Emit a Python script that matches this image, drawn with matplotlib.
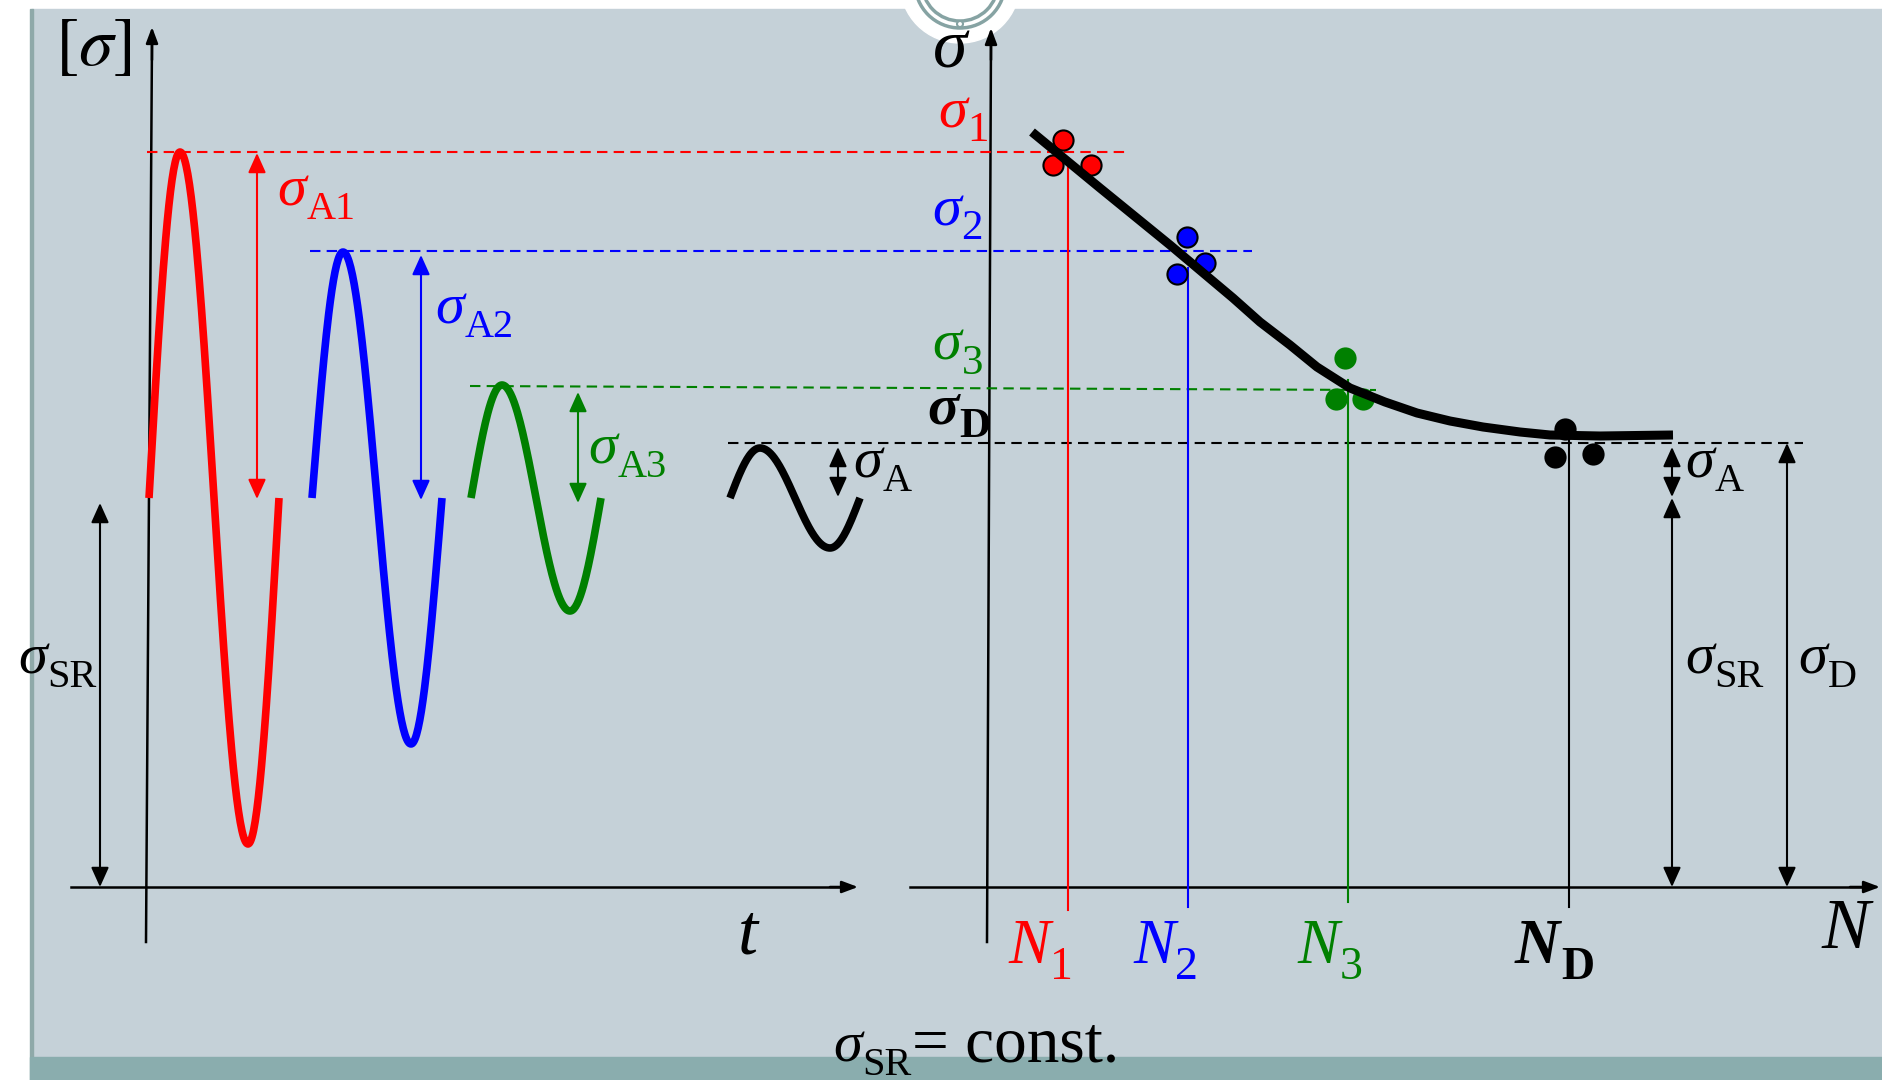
import numpy as np
import matplotlib.pyplot as plt
from matplotlib.patches import Rectangle, Circle

plt.rcParams['font.family'] = 'Liberation Serif'
plt.rcParams['mathtext.fontset'] = 'stix'

W, H = 1882, 1080

# --- left panel: stress-time signals (pixel units) ---
mean_level = 498                      # sigma_SR, constant mean stress
wave_colors = ['red', 'blue', 'green', 'black']
wave_x0 = [149, 312, 471, 730]
wave_amp = [346, 246, 113, 50]
wave_quarter = [31, 31, 31, 30]
wave_half = [68, 68, 68, 70]

# dashed stress levels sigma_1, sigma_2, sigma_3, sigma_D
level_colors = ['red', 'blue', 'green', 'black']
level_x = [(147, 1127), (310, 1252), (470, 1376), (728, 1803)]
level_y = [(152, 152), (251, 251), (386, 390), (443, 443)]

# amplitude arrows
amp_arrow_x = [257, 421, 578, 838]
amp_arrow_top = [153, 255, 392, 447]
amp_arrow_bot = [499, 500, 503, 497]
amp_labels = ['A1', 'A2', 'A3', 'A']
amp_label_pos = [(277, 205), (435, 323), (588, 463), (853, 477)]

# --- right panel: S-N (Woehler) diagram ---
n_x = [1068, 1188, 1348, 1569]
n_top = [165, 268, 380, 440]
n_bot = [910, 907, 902, 907]
n_names = ['1', '2', '3', 'D']
n_label_x = [1008, 1133, 1297, 1515]

# fracture points for each load level
pts_x = [[1063, 1053, 1091], [1187, 1205, 1177], [1345, 1336, 1363], [1565, 1555, 1593]]
pts_y = [[140, 165, 165], [237, 263, 274], [358, 399, 399], [429, 457, 454]]
pts_edge = ['black', 'black', 'green', 'black']

curve_x = [1032, 1100, 1170, 1233, 1260, 1290, 1317, 1350, 1385, 1417, 1450, 1483, 1520, 1550, 1600, 1673]
curve_y = [132, 188, 245, 298, 322, 345, 367, 388, 402, 413, 421, 427, 432, 435, 436, 435]

sig_names = ['1', '2', '3', 'D']
sig_label_pos = [(938, 127), (932, 225), (932, 360), (927, 423)]

bg = '#c5d1d8'
fig = plt.figure(figsize=(W / 100, H / 100), dpi=100, facecolor='white')
ax = fig.add_axes([0, 0, 1, 1])
ax.set_xlim(0, W)
ax.set_ylim(H, 0)
ax.axis('off')

# slide background
ax.add_patch(Rectangle((32, 9), W - 32, 1048, color=bg, zorder=0))
ax.add_patch(Rectangle((30, 9), 3, H, color='#8fa9a9', zorder=0))
ax.add_patch(Rectangle((30, 1057), W - 30, 23, color='#8aadae', zorder=0))
ax.add_patch(Circle((960, -17), 60, color='white', zorder=0.5))
ax.add_patch(Circle((960, -17), 45, fill=False, ec='#86a3a3', lw=2.5, zorder=0.6))
ax.add_patch(Circle((960, -17), 38, fill=False, ec='#86a3a3', lw=2.5, zorder=0.6))
ax.add_patch(Circle((960, 24), 3, fc='white', ec='#86a3a3', lw=1.5, zorder=0.7))


def arrow(x0, y0, x1, y1, color='black', both=True, lw=1.5):
    if both:
        style = '<|-|>,head_length=1.0,head_width=0.45'
    else:
        style = '-|>,head_length=0.8,head_width=0.3'
    ax.annotate('', xy=(x1, y1), xytext=(x0, y0),
                arrowprops=dict(arrowstyle=style, color=color, lw=lw,
                                shrinkA=0, shrinkB=0, mutation_scale=12),
                zorder=3)


def label(x, y, main, sub, color='black', size=42, subsize=29, bold=False):
    w = 'bold' if bold else 'normal'
    t = ax.text(x, y, main, color=color, fontsize=size, style='italic',
                weight=w, va='baseline', ha='left', zorder=5)
    s = ax.annotate(sub, xy=(1, 0), xycoords=t, xytext=(0.5, -1.5),
                    textcoords='offset points', color=color, fontsize=subsize,
                    weight=w, va='baseline', ha='left', zorder=5)
    return t, s


def wave(x0, q, h, amp, color):
    p1 = np.linspace(0, np.pi / 2, 40)
    p2 = np.linspace(np.pi / 2, 3 * np.pi / 2, 80)
    p3 = np.linspace(3 * np.pi / 2, 2 * np.pi, 40)
    x = np.concatenate([x0 + p1 / (np.pi / 2) * q,
                        x0 + q + (p2 - np.pi / 2) / np.pi * h,
                        x0 + q + h + (p3 - 3 * np.pi / 2) / (np.pi / 2) * q])
    p = np.concatenate([p1, p2, p3])
    ax.plot(x, mean_level - amp * np.sin(p), color=color, lw=5.5, solid_capstyle='butt', zorder=4)


# axes of both panels
ax.plot([146, 152], [942, 40], color='black', lw=1.8, zorder=2)
arrow(152, 60, 152, 27, both=False, lw=1.8)
ax.plot([71, 845], [887, 887], color='black', lw=1.8, zorder=2)
arrow(830, 887, 858, 887, both=False, lw=1.8)
ax.plot([987, 991], [942, 40], color='black', lw=1.8, zorder=2)
arrow(991, 60, 991, 28, both=False, lw=1.8)
ax.plot([910, 1865], [887, 887], color='black', lw=1.8, zorder=2)
arrow(1850, 887, 1880, 887, both=False, lw=1.8)

# dashed stress levels
for c, xs, ys in zip(level_colors, level_x, level_y):
    ax.plot(xs, ys, color=c, lw=1.5, linestyle=(0, (5, 3)), zorder=2)

# load signals and amplitude arrows
for i in range(4):
    wave(wave_x0[i], wave_quarter[i], wave_half[i], wave_amp[i], wave_colors[i])
    arrow(amp_arrow_x[i], amp_arrow_top[i], amp_arrow_x[i], amp_arrow_bot[i], wave_colors[i])
    label(amp_label_pos[i][0], amp_label_pos[i][1], 'σ', amp_labels[i], wave_colors[i])

# mean stress arrow and label
arrow(100, 503, 100, 887)
label(18, 673, 'σ', 'SR')

# S-N curve, vertical guides and fracture points
for i in range(4):
    ax.plot([n_x[i], n_x[i]], [n_top[i], n_bot[i]], color=level_colors[i], lw=1.5, zorder=2)
    ax.scatter(pts_x[i], pts_y[i], s=210, color=level_colors[i], edgecolors=pts_edge[i],
               linewidths=1.5, zorder=3)
    label(n_label_x[i], 963, 'N', n_names[i], level_colors[i], size=45, subsize=33, bold=(i == 3))
    label(sig_label_pos[i][0], sig_label_pos[i][1], 'σ', sig_names[i], level_colors[i],
          size=42, subsize=31, bold=(i == 3))
ax.plot(curve_x, curve_y, color='black', lw=6.5, solid_capstyle='butt', zorder=4)

# limit arrows on the right
arrow(1672, 447, 1672, 497)
arrow(1672, 498, 1672, 887)
arrow(1787, 443, 1787, 887)
label(1685, 477, 'σ', 'A')
label(1685, 673, 'σ', 'SR')
label(1798, 673, 'σ', 'D')

# axis titles
ax.text(93, 65, r'$[\sigma]$', fontsize=50, ha='center', va='baseline', zorder=5)
ax.text(950, 67, 'σ', fontsize=50, style='italic', ha='center', va='baseline', zorder=5)
ax.text(748, 954, 't', fontsize=52, style='italic', ha='center', va='baseline', zorder=5)
ax.text(1846, 948, 'N', fontsize=52, style='italic', ha='center', va='baseline', zorder=5)

t, s = label(833, 1061, 'σ', 'SR', size=42, subsize=29)
ax.annotate('= const.', xy=(1, 1061), xycoords=(s, 'data'), xytext=(0.5, 0),
            textcoords='offset points', fontsize=47, va='baseline', ha='left', zorder=5)

fig.savefig('out.png', dpi=100, facecolor='white')
